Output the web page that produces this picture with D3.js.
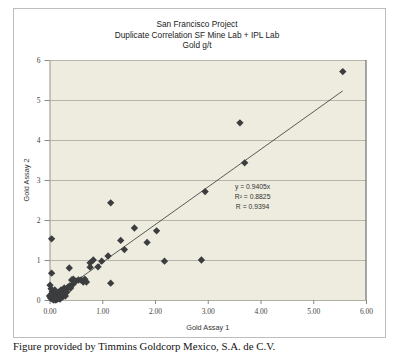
<!DOCTYPE html>
<html><head><meta charset="utf-8">
<script src="https://cdn.jsdelivr.net/npm/d3@7"></script>
<style>body{margin:0;background:#fff;}svg{display:block;}</style>
</head><body>
<script>
const titleLines = ["San Francisco Project","Duplicate Correlation SF Mine Lab + IPL Lab","Gold g/t"];
const xTickValues = [0,1,2,3,4,5,6];
const yTickValues = [0,1,2,3,4,5,6];
const assay1 = [5.56,3.61,3.70,2.95,2.88,1.16,1.61,2.03,1.35,1.85,1.42,0.04,2.18,1.11,0.99,0.83,0.77,0.92,0.77,0.375,0.04,1.16,0.64,0.67,0.45,0.01,
  0.02,0.05,0.08,0.10,0.12,0.15,0.18,0.20,0.22,0.25,0.28,0.30,0.32,0.35,0.38,0.40,0.05,0.03,0.10,0.15,0.06,0.25,0.30,0.45,0.50,0.55,0.42,0.48,0.60,0.70,0.12,0.20,0.00,0.08,0.14,0.18,0.24,0.33,0.02];
const assay2 = [5.71,4.43,3.43,2.71,1.00,2.43,1.80,1.73,1.49,1.44,1.26,1.53,0.97,1.10,0.97,1.00,0.93,0.83,0.82,0.80,0.67,0.42,0.45,0.52,0.52,0.37,
  0.05,0.02,0.10,0.05,0.15,0.10,0.20,0.12,0.25,0.18,0.30,0.22,0.28,0.32,0.35,0.30,0.20,0.28,0.25,0.02,0.08,0.08,0.10,0.40,0.48,0.50,0.50,0.45,0.50,0.45,0.00,0.02,0.10,0.00,0.05,0.04,0.15,0.20,0.12];
const slope = 0.9405;
const trendX = [0,5.56];
const statLines = ["y = 0.9405x","R\u00b2 = 0.8825","R = 0.9394"];
const caption = "Figure provided by Timmins Goldcorp Mexico, S.A. de C.V.";

const W=397,H=356;
const svg=d3.select("body").append("svg").attr("width",W).attr("height",H);
svg.append("rect").attr("x",13.5).attr("y",8.5).attr("width",372).attr("height",329).attr("fill","#fff").attr("stroke","#bdbdbd");

const x=d3.scaleLinear().domain([0,6]).range([49.5,366]);
const y=d3.scaleLinear().domain([0,6]).range([300,60]);

svg.append("rect").attr("x",x(0)).attr("y",y(6)).attr("width",x(6)-x(0)).attr("height",y(0)-y(6)).attr("fill","#eeecdf");

svg.append("g").selectAll("line").data(yTickValues.slice(1)).join("line")
  .attr("x1",x(0)).attr("x2",x(6)).attr("y1",d=>Math.round(y(d))+0.5).attr("y2",d=>Math.round(y(d))+0.5)
  .attr("stroke","#a8a69c").attr("stroke-width",0.8);
svg.append("line").attr("x1",x(6)).attr("x2",x(6)).attr("y1",y(6)).attr("y2",y(0)).attr("stroke","#555").attr("stroke-width",1);

const font="'Liberation Sans', Arial, sans-serif";
const xAxis=d3.axisBottom(x).tickValues(xTickValues).tickFormat(d3.format(".2f")).tickSize(4).tickSizeOuter(0);
const gx=svg.append("g").attr("transform",`translate(0,${y(0)})`).call(xAxis);
gx.select(".domain").attr("stroke","#b0aea5");
gx.selectAll(".tick line").attr("stroke","#8a8880");
gx.selectAll("text").attr("font-family","'Liberation Serif', serif").attr("font-size",7.5).attr("fill","#444").attr("dy","0.9em");

const yAxis=d3.axisLeft(y).tickValues(yTickValues).tickFormat(d3.format("d")).tickSize(5).tickSizeOuter(0);
const gy=svg.append("g").attr("transform",`translate(${x(0)},0)`).call(yAxis);
gy.select(".domain").attr("stroke","#9a988f");
gy.selectAll(".tick line").attr("stroke","#8a8880");
gy.selectAll("text").attr("font-family","'Liberation Serif', serif").attr("font-size",7.5).attr("fill","#444").attr("x",-9);

svg.append("line").attr("x1",x(trendX[0])).attr("y1",y(trendX[0]*slope)).attr("x2",x(trendX[1])).attr("y2",y(trendX[1]*slope))
  .attr("stroke","#333").attr("stroke-width",0.8);

const pts=assay1.map((d,i)=>[d,assay2[i]]);
svg.append("g").selectAll("path").data(pts).join("path")
  .attr("d",d3.symbol().type(d3.symbolDiamond2).size(34))
  .attr("transform",d=>`translate(${x(d[0])},${y(d[1])})`)
  .attr("fill","#3b3d3e");

svg.append("g").selectAll("text").data(statLines).join("text")
  .attr("x",x(3.85)).attr("y",(d,i)=>189+i*10).attr("text-anchor","middle")
  .attr("font-family",font).attr("font-size",6.8).attr("fill","#333").text(d=>d);

svg.append("g").selectAll("text").data(titleLines).join("text")
  .attr("x",197).attr("y",(d,i)=>27+i*10.5).attr("text-anchor","middle")
  .attr("font-family",font).attr("font-size",8.3).attr("fill","#222").text(d=>d);

svg.append("text").attr("x",(x(0)+x(6))/2).attr("y",330).attr("text-anchor","middle")
  .attr("font-family",font).attr("font-size",7.3).attr("fill","#333").text("Gold Assay 1");
svg.append("text").attr("transform",`translate(29,${y(3)}) rotate(-90)`).attr("text-anchor","middle")
  .attr("font-family",font).attr("font-size",7.3).attr("fill","#333").text("Gold Assay 2");

svg.append("text").attr("x",13).attr("y",350).attr("font-family","'Liberation Serif', 'Times New Roman', serif")
  .attr("font-size",10.8).attr("fill","#111").text(caption);
</script>
</body></html>
